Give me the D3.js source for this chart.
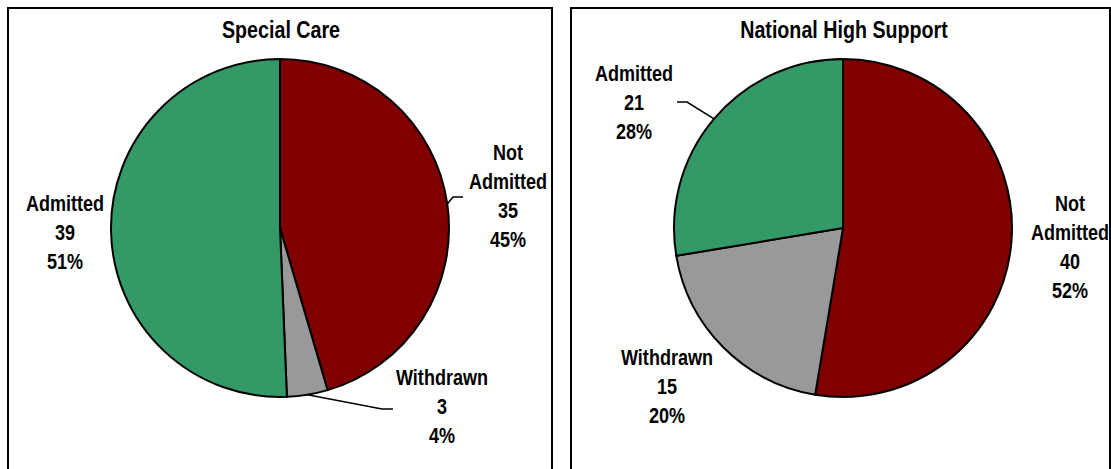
<!DOCTYPE html>
<html>
<head>
<meta charset="utf-8">
<script src="https://cdn.jsdelivr.net/npm/d3@7"></script>
<style>
  html, body { margin: 0; padding: 0; background: #fff; }
  svg { display: block; }
  text { font-family: "Liberation Sans Narrow", "Arial Narrow", "Liberation Sans", Arial, sans-serif; font-weight: bold; fill: #000; }
</style>
</head>
<body>
<svg id="chart" width="1111" height="469"></svg>
<script>
// Referral outcomes by unit type
const panelTitles = ["Special Care", "National High Support"];
const categories = ["Not Admitted", "Withdrawn", "Admitted"];
const specialCareValues = [35, 3, 39];
const specialCarePercents = ["45%", "4%", "51%"];
const nationalHighSupportValues = [40, 15, 21];
const nationalHighSupportPercents = ["52%", "20%", "28%"];

const sliceColors = ["#800000", "#999999", "#339966"];

const svg = d3.select("#chart");

// Panel frames, pie placement and label placement
const panels = [
  {
    title: panelTitles[0], values: specialCareValues, percents: specialCarePercents,
    frame: [8, 8, 544, 480], cx: 280, cy: 228, r: 169, titleX: 281,
    labels: [
      { x: 508, y: 160, lines: ["Not", "Admitted"], leader: [[453, 197], [463, 197]] },
      { x: 442, y: 385, lines: ["Withdrawn"], leader: [[382, 409], [393, 409]] },
      { x: 65, y: 211, lines: ["Admitted"] }
    ]
  },
  {
    title: panelTitles[1], values: nationalHighSupportValues, percents: nationalHighSupportPercents,
    frame: [571, 8, 539, 480], cx: 843, cy: 228, r: 169, titleX: 844,
    labels: [
      { x: 1070, y: 211, lines: ["Not", "Admitted"] },
      { x: 667, y: 365, lines: ["Withdrawn"] },
      { x: 634, y: 81, lines: ["Admitted"], leader: [[687, 102], [677, 102]] }
    ]
  }
];

const lineGap = 29;
const squeeze = 0.82; // horizontal condensing for the narrow bold face
const pie = d3.pie().sort(null).value(d => d);

// Draw a centred, horizontally condensed line of text
function condensedText(parent, x, y, str, size) {
  parent.append("g")
    .attr("transform", `translate(${x},${y}) scale(${squeeze},1)`)
    .append("text")
    .attr("text-anchor", "middle")
    .style("font-size", size + "px")
    .text(str);
}

panels.forEach(p => {
  const g = svg.append("g");

  g.append("rect")
    .attr("x", p.frame[0]).attr("y", p.frame[1])
    .attr("width", p.frame[2]).attr("height", p.frame[3])
    .attr("fill", "#fff").attr("stroke", "#000").attr("stroke-width", 2);

  condensedText(g, p.titleX, 38, p.title, 24);

  const arcs = pie(p.values);
  const arc = d3.arc().innerRadius(0).outerRadius(p.r);
  const pg = g.append("g").attr("transform", `translate(${p.cx},${p.cy})`);

  pg.selectAll("path")
    .data(arcs)
    .join("path")
    .attr("d", arc)
    .attr("fill", (d, i) => sliceColors[i])
    .attr("stroke", "#000")
    .attr("stroke-width", 2)
    .attr("stroke-linejoin", "round");

  arcs.forEach((a, i) => {
    const lab = p.labels[i];
    if (lab.leader) {
      const mid = (a.startAngle + a.endAngle) / 2;
      const start = [p.cx + p.r * Math.sin(mid), p.cy - p.r * Math.cos(mid)];
      g.append("path")
        .attr("d", d3.line()([start, ...lab.leader]))
        .attr("fill", "none").attr("stroke", "#000").attr("stroke-width", 1.5);
    }
    const lines = [...lab.lines, String(p.values[i]), p.percents[i]];
    lines.forEach((s, k) => condensedText(g, lab.x, lab.y + k * lineGap, s, 22));
  });
});
</script>
</body>
</html>
